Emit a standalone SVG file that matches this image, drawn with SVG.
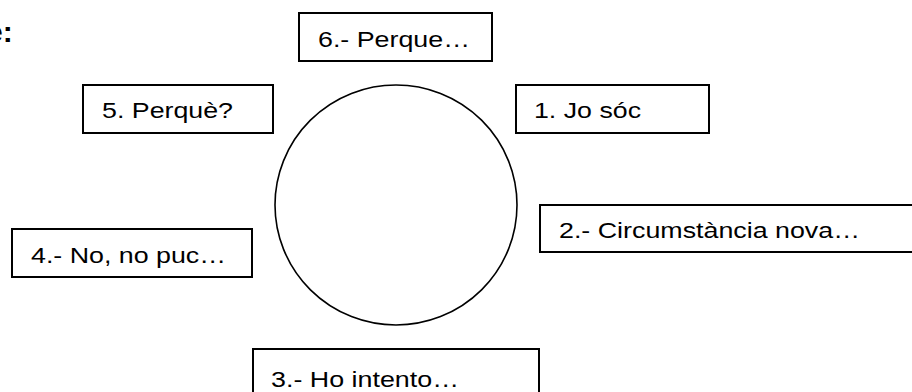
<svg xmlns="http://www.w3.org/2000/svg" width="912" height="392" viewBox="0 0 912 392">
<style>
.box{fill:#fff;stroke:#000;stroke-width:2}
.t{font-family:"Liberation Sans",Arial,sans-serif;font-size:22px;fill:#000}
.title{font-family:"Liberation Sans",Arial,sans-serif;font-size:30px;font-weight:bold;fill:#000}
</style>
<rect width="912" height="392" fill="#fff"/>
<text class="title" x="-14" y="42">e:</text>
<g id="center">
<ellipse cx="396" cy="205" rx="121" ry="120" fill="#fff" stroke="#000" stroke-width="1.6"/>
</g>
<g id="connectors"></g>
<g id="n6">
<rect class="box" x="299" y="13" width="193" height="48"/>
<text class="t" x="318" y="47" textLength="152" lengthAdjust="spacingAndGlyphs">6.- Perque…</text>
</g>
<g id="n5">
<rect class="box" x="83" y="85" width="190" height="48"/>
<text class="t" x="102" y="118" textLength="131" lengthAdjust="spacingAndGlyphs">5. Perquè?</text>
</g>
<g id="n1">
<rect class="box" x="516" y="85" width="193" height="48"/>
<text class="t" x="534" y="118" textLength="107" lengthAdjust="spacingAndGlyphs">1. Jo sóc</text>
</g>
<g id="n2">
<rect class="box" x="540" y="205" width="380" height="47"/>
<text class="t" x="559" y="238" textLength="301" lengthAdjust="spacingAndGlyphs">2.- Circumstància nova…</text>
</g>
<g id="n4">
<rect class="box" x="12" y="229" width="240" height="48"/>
<text class="t" x="31" y="263" textLength="195" lengthAdjust="spacingAndGlyphs">4.- No, no puc…</text>
</g>
<g id="n3">
<rect class="box" x="253" y="349" width="286" height="60"/>
<text class="t" x="271" y="387" textLength="188" lengthAdjust="spacingAndGlyphs">3.- Ho intento…</text>
</g>
</svg>
